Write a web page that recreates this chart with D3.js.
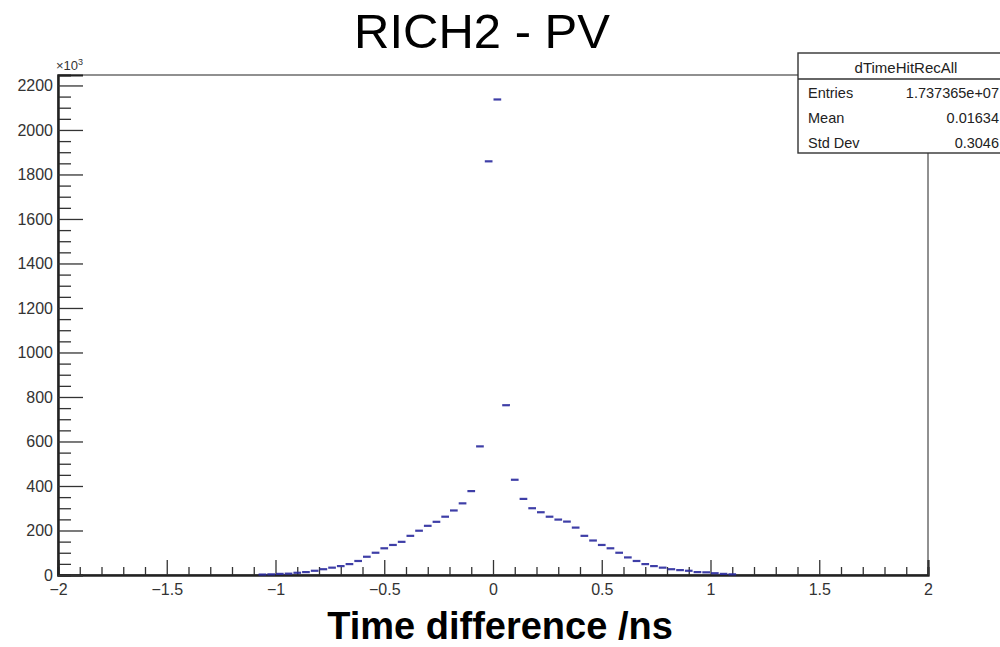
<!DOCTYPE html>
<html>
<head>
<meta charset="utf-8">
<script src="https://cdn.jsdelivr.net/npm/d3@7"></script>
<style>
  body { margin: 0; background: #fff; }
  svg { display: block; font-family: "Liberation Sans", Arial, sans-serif; }
</style>
</head>
<body>
<div id="chart"></div>
<script>
// histogram dTimeHitRecAll, bin width 0.04 ns, counts in units of 10^3
var binLow = [
  -1.08, -1.04, -1.00, -0.96, -0.92, -0.88, -0.84, -0.80, -0.76, -0.72,
  -0.68, -0.64, -0.60, -0.56, -0.52, -0.48, -0.44, -0.40, -0.36, -0.32,
  -0.28, -0.24, -0.20, -0.16, -0.12, -0.08, -0.04, 0.00, 0.04, 0.08,
  0.12, 0.16, 0.20, 0.24, 0.28, 0.32, 0.36, 0.40, 0.44, 0.48,
  0.52, 0.56, 0.60, 0.64, 0.68, 0.72, 0.76, 0.80, 0.84, 0.88,
  0.92, 0.96, 1.00, 1.04, 1.08
];
var counts = [
  2, 3, 5, 6, 10, 13, 19, 26, 33, 40,
  49, 63, 82, 100, 120, 135, 149, 176, 199, 221,
  239, 262, 290, 322, 377, 578, 1859, 2137, 763, 428,
  342, 300, 282, 262, 249, 240, 213, 176, 155, 135,
  120, 100, 79, 63, 49, 40, 33, 26, 22, 19,
  13, 12, 8, 5, 3
];
var binWidth = 0.04;

var xMajor = [-2, -1.5, -1, -0.5, 0, 0.5, 1, 1.5, 2];
var yMajor = [0, 200, 400, 600, 800, 1000, 1200, 1400, 1600, 1800, 2000, 2200];

var statsTitle = 'dTimeHitRecAll';
var statsNames = ['Entries', 'Mean', 'Std Dev'];
var statsValues = ['1.737365e+07', '0.01634', '0.3046'];

var width = 1000, height = 647;
var frame = { left: 58, right: 928, top: 75, bottom: 575 };

var svg = d3.select('#chart').append('svg')
  .attr('width', width)
  .attr('height', height);

var x = d3.scaleLinear().domain([-2, 2]).range([frame.left, frame.right]);
var y = d3.scaleLinear().domain([0, 2247]).range([frame.bottom, frame.top]);

// frame
svg.append('rect')
  .attr('x', frame.left).attr('y', frame.top)
  .attr('width', frame.right - frame.left)
  .attr('height', frame.bottom - frame.top)
  .attr('fill', 'none')
  .attr('stroke', '#222')
  .attr('stroke-width', 1);

// minor ticks
var xMinor = d3.range(-20, 21).map(function(i) { return i / 10; })
  .filter(function(v) { return Math.abs(v * 2 - Math.round(v * 2)) > 1e-6; });
var yMinor = d3.range(0, 2247, 50).filter(function(v) { return v % 200 !== 0; });

var gx = svg.append('g').attr('transform', 'translate(0,' + frame.bottom + ')');
gx.append('g').call(d3.axisBottom(x).tickValues(xMinor).tickSize(-8).tickFormat(''));
gx.append('g').call(d3.axisBottom(x).tickValues(xMajor).tickSize(-15).tickPadding(9)
  .tickFormat(d3.format('')));

var gy = svg.append('g').attr('transform', 'translate(' + frame.left + ',0)');
gy.append('g').call(d3.axisLeft(y).tickValues(yMinor).tickSize(-13).tickFormat(''));
gy.append('g').call(d3.axisLeft(y).tickValues(yMajor).tickSize(-25).tickPadding(5)
  .tickFormat(d3.format('d')));

svg.selectAll('.domain').attr('stroke', '#222').attr('stroke-width', 2);
svg.selectAll('.tick line').attr('stroke', '#333').attr('stroke-width', 1.3);
svg.selectAll('.tick text').attr('font-size', 16).attr('fill', '#333')
  .attr('font-family', '"Liberation Sans", Arial, sans-serif');

// x10^3 label
var exp = svg.append('text')
  .attr('x', 56).attr('y', 70)
  .attr('font-size', 13).attr('fill', '#333');
exp.append('tspan').text('\u00d710');
exp.append('tspan').attr('font-size', 9).attr('dy', -5).text('3');

// histogram markers
var hist = binLow.map(function(b, i) { return { low: b, value: counts[i] }; });
svg.append('g').selectAll('line')
  .data(hist)
  .join('line')
  .attr('x1', function(d) { return x(d.low) + 0.5; })
  .attr('x2', function(d) { return x(d.low + binWidth) - 0.5; })
  .attr('y1', function(d) { return y(d.value); })
  .attr('y2', function(d) { return y(d.value); })
  .attr('stroke', '#2a2a9e')
  .attr('stroke-width', 2.2)
  .attr('opacity', 0.9);

// title
svg.append('text')
  .attr('x', 482).attr('y', 48)
  .attr('text-anchor', 'middle')
  .attr('font-size', 49)
  .attr('fill', '#000')
  .text('RICH2 - PV');

// x axis title
svg.append('text')
  .attr('x', 500).attr('y', 639)
  .attr('text-anchor', 'middle')
  .attr('font-size', 38)
  .attr('font-weight', 'bold')
  .attr('fill', '#000')
  .text('Time difference /ns');

// stats box
var box = { x: 798, y: 53, w: 216, h: 100, head: 26 };
var stats = svg.append('g');
stats.append('rect')
  .attr('x', box.x).attr('y', box.y)
  .attr('width', box.w).attr('height', box.h)
  .attr('fill', '#fff')
  .attr('stroke', '#333')
  .attr('stroke-width', 1.4);
stats.append('line')
  .attr('x1', box.x).attr('x2', box.x + box.w)
  .attr('y1', box.y + box.head).attr('y2', box.y + box.head)
  .attr('stroke', '#333').attr('stroke-width', 1.6);
stats.append('text')
  .attr('x', box.x + 108).attr('y', box.y + 20)
  .attr('text-anchor', 'middle')
  .attr('font-size', 15).attr('fill', '#222')
  .text(statsTitle);
statsNames.forEach(function(name, i) {
  var yy = box.y + 45 + i * 25;
  stats.append('text')
    .attr('x', box.x + 10).attr('y', yy)
    .attr('font-size', 14.5).attr('fill', '#222')
    .text(name);
  stats.append('text')
    .attr('x', 999).attr('y', yy)
    .attr('text-anchor', 'end')
    .attr('font-size', 14.5).attr('fill', '#222')
    .text(statsValues[i]);
});
</script>
</body>
</html>
